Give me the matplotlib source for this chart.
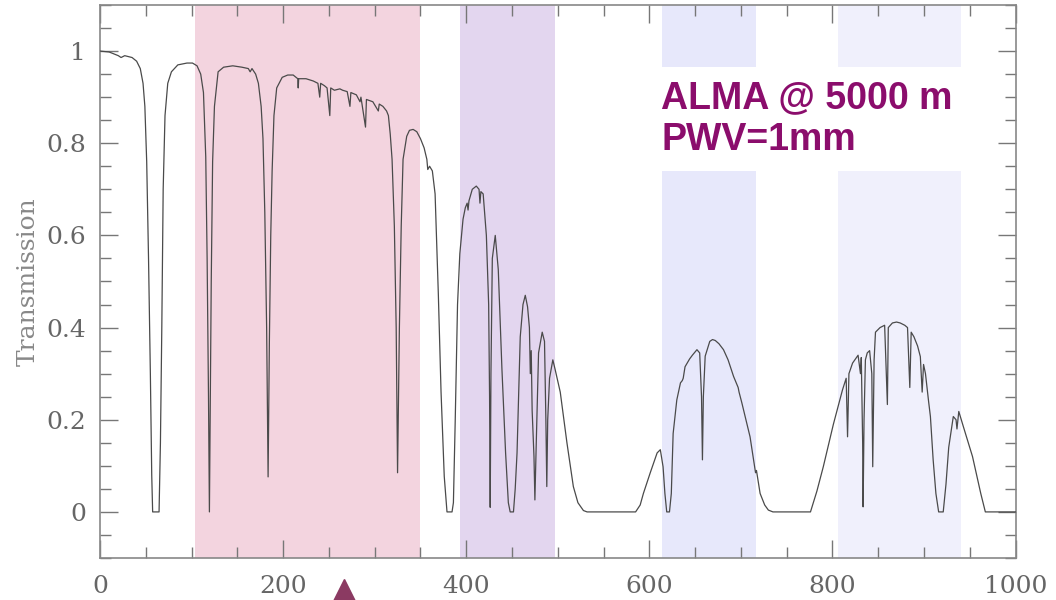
import matplotlib
matplotlib.use("Agg")
import matplotlib.pyplot as plt
from matplotlib.ticker import MultipleLocator

# Frequency (GHz) and atmospheric transmission
freq = [0, 10, 20, 23, 27, 35, 40, 44, 47, 49, 51, 53, 55, 56.5, 57.5, 64.5, 66, 67.5, 69, 71, 74,
        78, 85, 95, 101, 106, 110, 113, 115.5, 117, 118.5, 119.5, 120.5, 121.5, 123, 125, 129,
        135, 145, 155, 162, 164, 166, 170, 173, 176, 178, 180, 182, 183.6, 185, 186.5, 188, 190,
        193, 199, 205, 211, 216, 216.5, 217, 225, 233, 238, 240, 241, 245, 248, 251, 252, 256,
        262, 265, 270, 273, 274, 280, 284, 285, 290, 291, 298, 304, 305, 309, 313, 315, 317,
        319, 321.5, 323.5, 325, 327, 329, 331, 335, 338, 342, 346, 350, 354, 357, 358, 360,
        363, 366, 369.5, 372.5, 376, 379, 384.5, 386, 388, 390.5, 393, 396.5, 399, 401, 402,
        403, 406.6, 411, 414, 415, 416, 418.5, 422, 424.5, 425.5, 426.2, 427, 428.5, 431.7,
        435, 439, 443, 446, 448, 451.6, 453.5, 455.5, 459, 462, 464.5, 467, 469, 470, 471,
        472, 474, 475, 476.5, 479, 483, 485.5, 487, 488, 489, 491, 494.6, 497, 502.7, 510,
        517, 522, 528, 532, 585, 590, 593.5, 601, 608.5, 612, 615, 617, 619, 622, 624, 626,
        630, 634, 636, 637, 639, 644, 647, 652, 655, 657, 658, 659, 661, 666, 669, 672, 676,
        681, 686, 692, 697, 698, 701, 710, 714, 716, 717, 721, 726, 730, 735, 776, 783, 790,
        801, 811, 815, 816.5, 818, 822, 828, 830.6, 831.5, 833, 833.5, 834.5, 836, 838, 840.6,
        843, 844, 845.5, 847, 852, 857, 860, 861, 865.5, 870, 874, 879, 882, 884.5, 886, 889,
        893, 896, 898, 899.5, 901.6, 905, 907, 910, 913, 916, 921, 924, 927, 932, 935, 936,
        938, 943, 953, 962, 967, 1000]
trans = [1.0, 0.998, 0.99, 0.986, 0.99, 0.986, 0.978, 0.962, 0.93, 0.88, 0.76, 0.55, 0.30, 0.08,
         0.0, 0.0, 0.15, 0.40, 0.70, 0.86, 0.93, 0.955, 0.97, 0.974, 0.974, 0.968, 0.95, 0.91,
         0.77, 0.55, 0.25, 0.0, 0.25, 0.50, 0.76, 0.88, 0.955, 0.965, 0.968, 0.965, 0.962,
         0.955, 0.962, 0.95, 0.93, 0.88, 0.81, 0.65, 0.40, 0.076, 0.37, 0.60, 0.74, 0.86, 0.92,
         0.943, 0.948, 0.948, 0.94, 0.92, 0.94, 0.94, 0.935, 0.93, 0.90, 0.93, 0.925, 0.92,
         0.86, 0.92, 0.915, 0.918, 0.915, 0.912, 0.88, 0.91, 0.905, 0.89, 0.90, 0.835, 0.895,
         0.89, 0.87, 0.885, 0.88, 0.87, 0.86, 0.82, 0.765, 0.62, 0.40, 0.085, 0.40, 0.62,
         0.765, 0.815, 0.828, 0.83, 0.825, 0.81, 0.79, 0.765, 0.743, 0.75, 0.74, 0.69, 0.475,
         0.26, 0.077, 0.0, 0.0, 0.02, 0.20, 0.45, 0.56, 0.635, 0.66, 0.67, 0.655, 0.675, 0.70,
         0.707, 0.70, 0.67, 0.695, 0.69, 0.60, 0.45, 0.25, 0.01, 0.30, 0.55, 0.60, 0.526,
         0.31, 0.128, 0.02, 0.0, 0.0, 0.05, 0.128, 0.38, 0.45, 0.47, 0.445, 0.40, 0.30, 0.35,
         0.22, 0.12, 0.026, 0.15, 0.345, 0.39, 0.37, 0.20, 0.055, 0.20, 0.29, 0.33, 0.31,
         0.26, 0.15, 0.055, 0.02, 0.003, 0.0, 0.0, 0.015, 0.04, 0.085, 0.128, 0.135, 0.098,
         0.04, 0.0, 0.0, 0.04, 0.17, 0.243, 0.28, 0.285, 0.29, 0.315, 0.332, 0.34, 0.352,
         0.345, 0.25, 0.113, 0.25, 0.338, 0.37, 0.374, 0.372, 0.365, 0.352, 0.33, 0.294, 0.27,
         0.26, 0.237, 0.163, 0.11, 0.085, 0.09, 0.04, 0.015, 0.004, 0.0, 0.0, 0.045, 0.098,
         0.19, 0.265, 0.29, 0.163, 0.30, 0.323, 0.34, 0.30, 0.335, 0.15, 0.011, 0.20, 0.33,
         0.345, 0.35, 0.30, 0.098, 0.33, 0.39, 0.40, 0.405, 0.233, 0.40, 0.41, 0.412, 0.41,
         0.405, 0.40, 0.27, 0.39, 0.38, 0.36, 0.337, 0.26, 0.32, 0.30, 0.24, 0.207, 0.113,
         0.04, 0.0, 0.0, 0.06, 0.14, 0.207, 0.20, 0.18, 0.218, 0.185, 0.12, 0.04, 0.0, 0.0]

# Shaded frequency windows (GHz)
band_lo = [104, 393, 614, 806]
band_hi = [350, 497, 716, 940]
band_colors = ["#f3d4df", "#e3d6ef", "#e7e8fb", "#f0f0fc"]

label_text = "ALMA @ 5000 m\nPWV=1mm"
marker_freq = [266]

fig = plt.figure(figsize=(10.56, 6.0), dpi=100)
ax = fig.add_axes([0.0947, 0.07, 0.867, 0.9217])

for lo, hi, c in zip(band_lo, band_hi, band_colors):
    ax.axvspan(lo, hi, color=c, lw=0, zorder=0)

ax.plot(freq, trans, color="#4a4a4a", lw=0.9, zorder=3)

ax.set_xlim(0, 1000)
ax.set_ylim(-0.1, 1.1)

ax.xaxis.set_major_locator(MultipleLocator(200))
ax.xaxis.set_minor_locator(MultipleLocator(50))
ax.yaxis.set_major_locator(MultipleLocator(0.2))
ax.yaxis.set_minor_locator(MultipleLocator(0.05))
ax.yaxis.set_major_formatter(plt.FuncFormatter(lambda v, p: f"{v:g}" if abs(v) > 1e-9 else "0"))

ax.tick_params(which="both", direction="in", top=True, right=True, colors="#777777",
               labelcolor="#666666", labelsize=18)
ax.tick_params(which="major", length=13, width=1)
ax.tick_params(which="minor", length=8, width=1)
ax.tick_params(axis="y", pad=10)
ax.tick_params(axis="x", pad=12)
for lab in ax.get_xticklabels() + ax.get_yticklabels():
    lab.set_fontfamily("DejaVu Serif")
for s in ax.spines.values():
    s.set_color("#888888")
    s.set_linewidth(1.2)

ax.set_ylabel("Transmission", fontfamily="DejaVu Serif", fontsize=18, color="#888888",
              labelpad=5)

ax.text(613, 0.937, label_text, fontsize=27, fontweight="bold", color="#8b0d6c",
        fontfamily="Liberation Sans", va="top", ha="left", linespacing=1.22, zorder=5,
        bbox=dict(boxstyle="square,pad=0.35", facecolor="white", edgecolor="none"))

ax.plot(marker_freq, [-0.172], marker="^", markersize=17, color="#8b3a62",
        linestyle="none", clip_on=False, zorder=6)

fig.savefig("out.png", dpi=100)
